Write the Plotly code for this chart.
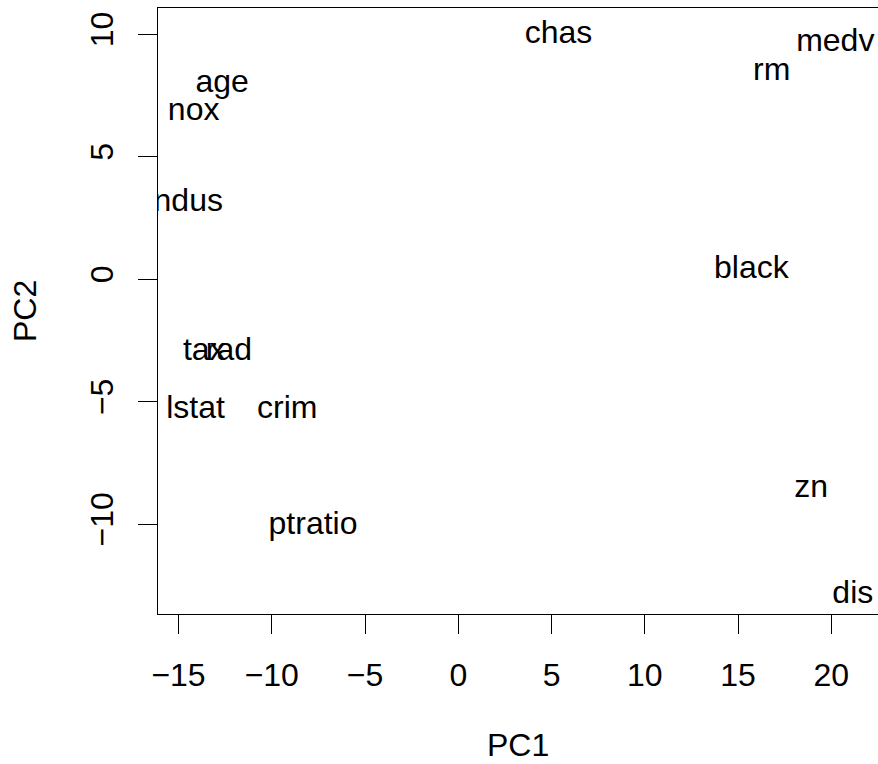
import plotly.graph_objects as go

labels = ["crim", "zn", "indus", "chas", "nox", "rm", "age", "dis", "rad", "tax",
          "ptratio", "black", "lstat", "medv"]
pc1 = [-9.17, 18.91, -14.67, 5.37, -14.19, 16.80, -12.66, 21.15, -12.30, -13.62,
       -7.79, 15.71, -14.09, 20.21]
pc2 = [-5.34, -8.58, 3.12, 9.97, 6.84, 8.44, 7.97, -12.90, -2.99, -2.99,
       -10.08, 0.37, -5.34, 9.66]

x_ticks = [-15, -10, -5, 0, 5, 10, 15, 20]
y_ticks = [-10, -5, 0, 5, 10]

FONT = "Liberation Sans, Arial, Helvetica, sans-serif"
FS = 32

fig = go.Figure()
fig.add_trace(go.Scatter(
    x=pc1, y=pc2, text=labels, mode="text",
    textposition="middle center",
    textfont=dict(family=FONT, size=FS, color="black"),
    cliponaxis=True, hoverinfo="skip", showlegend=False,
))

fig.update_layout(
    width=878, height=764,
    margin=dict(l=158, r=0, t=8, b=150, pad=0),
    paper_bgcolor="white", plot_bgcolor="white",
    font=dict(family=FONT, size=FS, color="black"),
    showlegend=False,
    annotations=[
        dict(text="PC1", xref="paper", yref="paper", x=0.5, y=0,
             xanchor="center", yanchor="middle", yshift=-131, showarrow=False,
             font=dict(family=FONT, size=FS, color="black")),
        dict(text="PC2", xref="paper", yref="paper", x=0, y=0.5,
             xanchor="center", yanchor="middle", xshift=-133, textangle=-90,
             showarrow=False, font=dict(family=FONT, size=FS, color="black")),
    ],
)

fig.update_xaxes(
    range=[-16.10, 22.50], tickvals=x_ticks, ticktext=[str(v).replace("-", "\u2212") for v in x_ticks],
    showgrid=False, zeroline=False,
    showline=True, linecolor="black", linewidth=1, mirror=True,
    ticks="outside", ticklen=19, tickwidth=1, tickcolor="black",
    ticklabelstandoff=14,
    tickfont=dict(family=FONT, size=FS, color="black"),
)
fig.update_yaxes(
    range=[-13.67, 11.07], tickvals=y_ticks, ticktext=[str(v).replace("-", "\u2212") for v in y_ticks],
    showgrid=False, zeroline=False,
    showline=True, linecolor="black", linewidth=1, mirror=False,
    ticks="outside", ticklen=19, tickwidth=1, tickcolor="black",
    tickangle=-90, ticklabelstandoff=12,
    tickfont=dict(family=FONT, size=FS, color="black"),
)

fig.write_html("out.html")
